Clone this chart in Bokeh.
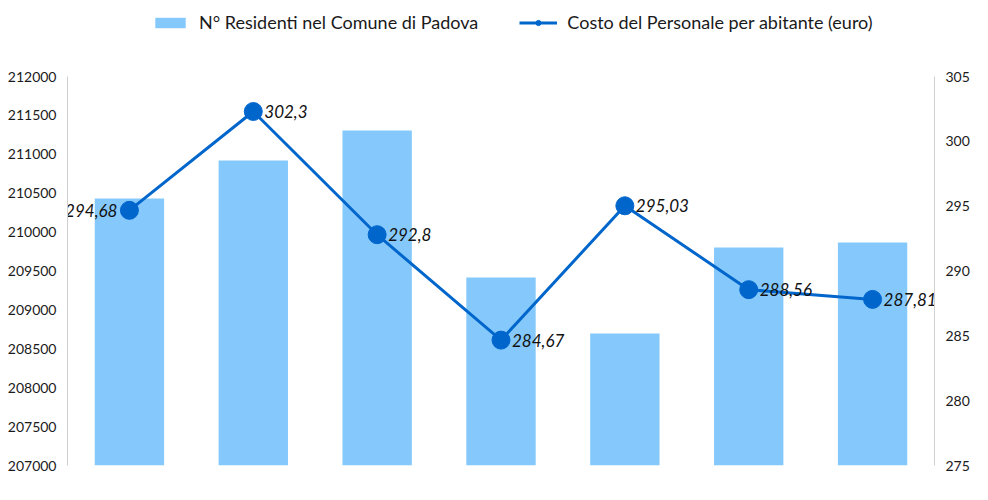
from bokeh.plotting import figure
from bokeh.models import Range1d, LinearAxis, Legend, LegendItem, ColumnDataSource, SingleIntervalTicker, BasicTickFormatter
from bokeh.core.properties import value
from bokeh.embed import file_html
from bokeh.resources import INLINE

# --- data ---
categories = ["1", "2", "3", "4", "5", "6", "7"]
residenti = [210432, 210920, 211306, 209416, 208697, 209802, 209866]
costo = [294.68, 302.3, 292.8, 284.67, 295.03, 288.56, 287.81]
labels = [f"{v}".replace(".", ",") for v in costo]
left_bounds = (207000, 212000)
right_bounds = (275, 305)

FONT = "Lato"
W, H = 972, 484
FRAME_TOP, AXIS_TOP, AXIS_BOTTOM = 6, 76, 465
ext = (AXIS_BOTTOM - FRAME_TOP) / (AXIS_BOTTOM - AXIS_TOP)
ly_end = left_bounds[0] + (left_bounds[1] - left_bounds[0]) * ext
ry_end = right_bounds[0] + (right_bounds[1] - right_bounds[0]) * ext

p = figure(width=W, height=H, output_backend="svg", toolbar_location=None,
           x_range=categories, y_range=Range1d(left_bounds[0], ly_end),
           min_border_left=67, min_border_right=34, min_border_top=FRAME_TOP,
           min_border_bottom=H - AXIS_BOTTOM)
p.outline_line_color = None
p.xgrid.visible = False
p.ygrid.visible = False
p.xaxis.visible = False

p.extra_y_ranges = {"right": Range1d(right_bounds[0], ry_end)}

ax = p.yaxis[0]
ax.bounds = left_bounds
ax.ticker = SingleIntervalTicker(interval=500)
ax.formatter = BasicTickFormatter(use_scientific=False)
ax.axis_line_color = "#d0d0d0"
ax.major_tick_line_color = None
ax.minor_tick_line_color = None
ax.major_label_text_font = FONT
ax.major_label_text_font_size = "14px"
ax.major_label_text_color = "#1a1a1a"
ax.major_label_standoff = 5

rax = LinearAxis(y_range_name="right", ticker=SingleIntervalTicker(interval=5), bounds=right_bounds)
rax.axis_line_color = "#d0d0d0"
rax.major_tick_line_color = None
rax.minor_tick_line_color = None
rax.major_label_text_font = FONT
rax.major_label_text_font_size = "14px"
rax.major_label_text_color = "#1a1a1a"
rax.major_label_standoff = 5
p.add_layout(rax, "right")

src = ColumnDataSource(dict(x=categories, r=residenti, c=costo, lab=labels,
                            align=["right"] + ["left"] * (len(categories) - 1),
                            xo=[-12] + [11] * (len(categories) - 1)))

bars = p.vbar(x="x", top="r", bottom=left_bounds[0], width=0.56, source=src,
              fill_color="#85C9FC", line_color=None)
ln = p.line(x="x", y="c", source=src, y_range_name="right", line_color="#0066CC", line_width=3)
pts = p.scatter(x="x", y="c", source=src, y_range_name="right", size=18,
                fill_color="#0066CC", line_color="#0066CC")
p.text(x="x", y="c", text="lab", source=src, y_range_name="right",
       x_offset="xo", text_align="align", text_baseline="middle",
       text_font=value(FONT), text_font_style="italic", text_font_size="17px",
       text_color="#111111")

legend = Legend(items=[LegendItem(label="N° Residenti nel Comune di Padova", renderers=[bars]),
                       LegendItem(label="Costo del Personale per abitante (euro)", renderers=[ln, pts])],
                location=(84, 432), orientation="horizontal",
                padding=0, margin=0, spacing=41, glyph_width=38, glyph_height=13,
                label_standoff=10, label_height=20, label_text_font=FONT, label_text_font_size="18px",
                label_text_color="#1a1a1a", background_fill_alpha=0, border_line_color=None)
p.add_layout(legend, "center")

open("out.html", "w").write(file_html(p, INLINE))
